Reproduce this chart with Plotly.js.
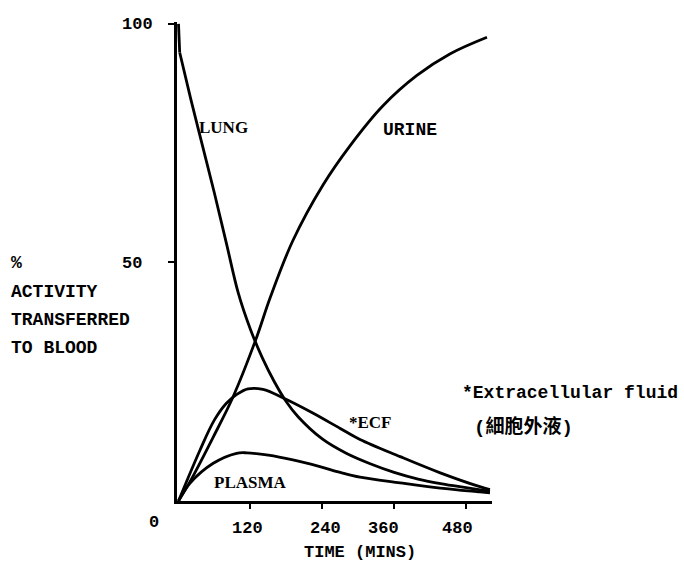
<!DOCTYPE html>
<html>
<head>
<meta charset="utf-8">
<script src="https://cdn.plot.ly/plotly-3.0.1.min.js"></script>
<style>html,body{margin:0;padding:0;background:#fff;}</style>
</head>
<body>
<div id="chart" style="width:684px;height:565px;"></div>
<script>
// ---- data ----
const lungX   = [0, 2, 20, 40, 60, 80, 100, 120, 140, 160, 180, 200, 240, 280, 320, 360, 400, 440, 480, 520];
const lungY   = [100, 94, 84.5, 74.5, 64.5, 54, 43.5, 36, 30, 25, 20.8, 17.6, 13, 10, 7.8, 6, 4.6, 3.6, 2.8, 2.0];

const urineX  = [0, 19, 58, 91, 129, 153, 191, 241, 286, 341, 398, 453, 515];
const urineY  = [0, 4, 13.4, 21.8, 33.8, 42.6, 54.6, 66.2, 74.4, 82.8, 89.2, 93.7, 97.2];

const ecfX    = [0, 36, 60, 80, 98, 116, 141, 175, 225, 270, 303, 370, 437, 503, 520];
const ecfY    = [0, 10.7, 17, 20.5, 22.4, 23.5, 23.4, 21.6, 18.4, 15.2, 12.9, 9.3, 5.9, 3.0, 2.4];

const plasmaX = [0, 19, 58, 97, 114, 150, 191, 236, 270, 303, 370, 437, 503, 520];
const plasmaY = [0, 3.7, 7.9, 10, 10.1, 9.6, 8.6, 7.2, 6.0, 5.0, 3.8, 2.7, 1.9, 1.7];

const xTickVals   = [120, 240, 360, 480];
const xTickLabels = ['120', '240', '360', '480'];
const yTickVals   = [100, 50];
const yTickLabels = ['100', '50'];
const yTitleLines = ['%', 'ACTIVITY', 'TRANSFERRED', 'TO BLOOD'];
const xTitle      = 'TIME (MINS)';
const curveLabels = ['LUNG', 'URINE', '*ECF', 'PLASMA'];
const footnote    = ['*Extracellular fluid', '(細胞外液)'];

// ---- styling ----
const MONO = '"Liberation Mono", "Noto Sans CJK TC", monospace';
const SERIF = '"Liberation Serif", serif';
const W = 2.8;

function curve(x, y, shape) {
  return {x: x, y: y, type: 'scatter', mode: 'lines',
          line: {color: '#000', width: W, shape: shape, smoothing: 1},
          hoverinfo: 'skip', showlegend: false, cliponaxis: false};
}

const traces = [
  curve(lungX.slice(0, 2), lungY.slice(0, 2), 'linear'),
  curve(lungX.slice(1), lungY.slice(1), 'spline'),
  curve(urineX, urineY, 'spline'),
  curve(ecfX, ecfY, 'spline'),
  curve(plasmaX, plasmaY, 'spline')
];

// plot area in pixels
const L = 177, R = 492, T = 22, B = 501;
const px2paperX = p => (p - L) / (R - L);
const px2paperY = p => (B - p) / (B - T);

const tickFont = {family: MONO, size: 17, color: '#000', weight: 'bold'};
const ann = [];
const xShifts = [-3, 3, -11, -9];
xTickVals.forEach((v, i) => ann.push({
  x: v, y: 0, xref: 'x', yref: 'y', text: xTickLabels[i], showarrow: false,
  xanchor: 'center', yanchor: 'middle', xshift: xShifts[i], yshift: -27, font: tickFont
}));
yTickVals.forEach((v, i) => ann.push({
  x: px2paperX(120), y: v, xref: 'paper', yref: 'y', text: yTickLabels[i], showarrow: false,
  xanchor: 'left', yanchor: 'middle', yshift: -1, font: tickFont
}));
ann.push({
  x: px2paperX(147), y: px2paperY(522), xref: 'paper', yref: 'paper', text: '0', showarrow: false,
  xanchor: 'left', yanchor: 'middle', font: tickFont
});
const titleRows = [263, 292, 320, 348];
yTitleLines.forEach((t, i) => ann.push({
  x: px2paperX(9), y: px2paperY(titleRows[i]), xref: 'paper', yref: 'paper', text: t,
  showarrow: false, xanchor: 'left', yanchor: 'middle',
  font: {family: MONO, size: 18, color: '#000', weight: 'bold'}
}));
ann.push({
  x: px2paperX(360), y: px2paperY(552), xref: 'paper', yref: 'paper', text: xTitle,
  showarrow: false, xanchor: 'center', yanchor: 'middle',
  font: {family: MONO, size: 17, color: '#000', weight: 'bold'}
});
// curve labels (data coords)
const labelPos = [[75, 78.2, SERIF, 17], [386, 77.8, MONO, 18], [320, 16.4, SERIF, 17], [120, 3.8, SERIF, 17]];
curveLabels.forEach((t, i) => ann.push({
  x: labelPos[i][0], y: labelPos[i][1], xref: 'x', yref: 'y', text: t, showarrow: false,
  xanchor: 'center', yanchor: 'middle',
  font: {family: labelPos[i][2], size: labelPos[i][3], color: '#000', weight: 'bold'}
}));
ann.push({
  x: px2paperX(460), y: px2paperY(393), xref: 'paper', yref: 'paper', text: footnote[0],
  showarrow: false, xanchor: 'left', yanchor: 'middle',
  font: {family: MONO, size: 18, color: '#000', weight: 'bold'}
});
ann.push({
  x: px2paperX(472), y: px2paperY(427), xref: 'paper', yref: 'paper', text: footnote[1],
  showarrow: false, xanchor: 'left', yanchor: 'middle',
  font: {family: MONO, size: 19, color: '#000', weight: 'bold'}
});

const layout = {
  width: 684, height: 565, autosize: false,
  margin: {l: L, r: 684 - R, t: T, b: 565 - B, pad: 0},
  paper_bgcolor: '#fff', plot_bgcolor: '#fff',
  showlegend: false,
  xaxis: {
    range: [-2.5, 523.4], showgrid: false, zeroline: false,
    showline: true, linecolor: '#000', linewidth: 3,
    tickmode: 'array', tickvals: xTickVals, showticklabels: false,
    ticks: 'outside', ticklen: 5, tickwidth: 2, tickcolor: '#000',
    automargin: false, fixedrange: true
  },
  yaxis: {
    range: [0, 100.4], showgrid: false, zeroline: false,
    showline: true, linecolor: '#000', linewidth: 3,
    tickmode: 'array', tickvals: yTickVals, showticklabels: false,
    ticks: 'outside', ticklen: 6, tickwidth: 2, tickcolor: '#000',
    automargin: false, fixedrange: true
  },
  annotations: ann
};

Plotly.newPlot('chart', traces, layout, {staticPlot: true, displayModeBar: false});
</script>
</body>
</html>
